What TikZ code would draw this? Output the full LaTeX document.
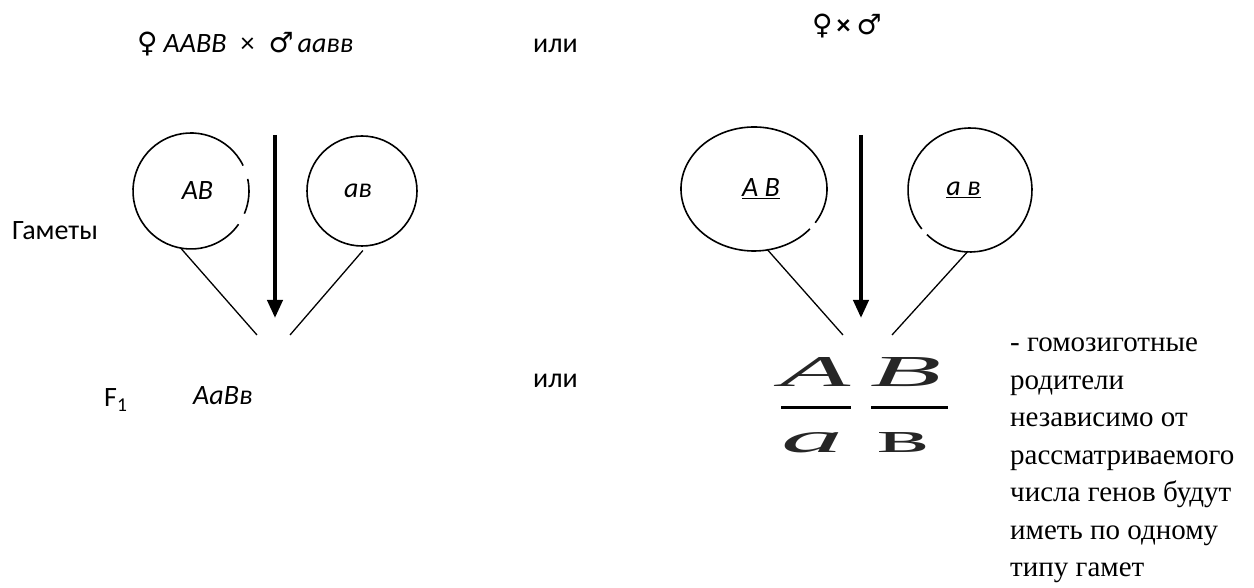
\documentclass[tikz,border=0pt]{standalone}
\usepackage{fontspec}
\setmainfont{Carlito}
\newfontfamily\symfont{DejaVu Sans}
\newfontfamily\romfont{Liberation Serif}
\usetikzlibrary{arrows.meta,shapes.geometric}
\begin{document}
\begin{tikzpicture}[x=1pt,y=1pt]

\tikzstyle{txt}=[inner sep=0pt, anchor=base west, font=\fontsize{28}{34}\selectfont]
\tikzstyle{gamete}=[circle, inner sep=0pt, font=\fontsize{28}{34}\selectfont\itshape]
\tikzstyle{ring}=[line width=1.6pt]
\tikzstyle{tie}=[line width=1.3pt]
\tikzstyle{arrow}=[-{Triangle[width=15pt,length=18pt]}, line width=4pt]
\tikzstyle{note}=[inner sep=0pt, anchor=base west, font=\romfont\fontsize{29}{37}\selectfont]
\tikzstyle{pix}=[inner sep=0pt, text=black!85, font=\romfont]

\fill[white] (0,0) rectangle (1254,588);
\useasboundingbox (0,0) rectangle (1254,588);

% crosses
\node (crossL) [txt] at (137,535) {{\symfont ♀}\hspace{6pt}\textit{AABB}\hspace{14pt}×\hspace{14pt}{\symfont ♂}\hspace{4pt}\textit{aaвв}};
\node (orTop) [txt] at (533,535) {или};
\node (crossR) [txt] at (812,553) {{\symfont ♀}\hspace{4pt}\textbf{×}\hspace{6pt}{\symfont ♂}};

\node (gam) [txt] at (12,348) {Гаметы};
\node (fone) [txt] at (104,181) {F\textsubscript{1}};
\node (hyb) [txt] at (193,183) {\textit{AaBв}};
\node (orBot) [txt] at (533,200) {или};

% left gametes
\node (gAB) [gamete, minimum size=116pt] at (191,397) {\hspace*{13pt}\raisebox{-3pt}{AB}};
\node (gav) [gamete, minimum size=110pt] at (362,397) {\raisebox{-3pt}{aв}\hspace*{8pt}};
\draw [ring] (gAB.center) ++(26:58) arc[start angle=26, end angle=325, radius=58];
\draw [ring] (gAB.center) ++(-23:58) arc[start angle=-23, end angle=12, radius=58];
\draw [ring] (gav) circle[radius=55];

\coordinate (arrTopL) at (275,453);
\coordinate (arrEndL) at (275,270);
\coordinate (footAB) at (257,253);
\coordinate (footav) at (290,253);
\draw [arrow] (arrTopL) -- (arrEndL);
\draw [tie] (gAB.-100) -- (footAB);
\draw [tie, shorten <=6pt] (gav.-85) -- (footav);

% right gametes
\node (eAB) [gamete, ellipse, minimum width=146pt, minimum height=124pt] at (754,399) {\hspace*{14pt}\raisebox{-8pt}{\underline{A B}}};
\node (cav) [gamete, minimum size=124pt] at (970,398) {\raisebox{-7pt}{\underline{a в}}\hspace*{13pt}};
\draw [ring] (eAB.center) ++(-33:73 and 62) arc[start angle=-33, end angle=320, x radius=73, y radius=62];
\draw [ring] (cav.center) ++(-134:62) arc[start angle=-134, end angle=219, radius=62];

\coordinate (arrTopR) at (861,453);
\coordinate (arrEndR) at (861,270);
\coordinate (footeAB) at (843,253);
\coordinate (footcav) at (892,253);
\draw [arrow] (arrTopR) -- (arrEndR);
\draw [tie] (eAB.south) ++(13,2) coordinate (legeAB) -- (footeAB);
\draw [tie] (cav.south) ++(-2,1) coordinate (legcav) -- (footcav);

% chromosome notation
\node (chA) [pix] at (816,215.5) {\resizebox{70pt}{29pt}{\itshape A}};
\node (chB) [pix] at (906.5,215.5) {\resizebox{71pt}{29pt}{\itshape B}};
\node (cha) [pix] at (812,145) {\resizebox{62pt}{20pt}{\itshape a}};
\node (chv) [pix] at (904,145) {\resizebox{52pt}{20pt}{в}};
\draw [line width=3pt] (781,180) coordinate (barAl) -- (851,180) coordinate (barAr);
\draw [line width=3pt] (871,180) coordinate (barBl) -- (948,180) coordinate (barBr);

% note
\foreach \txtline [count=\i] in {- гомозиготные,родители,независимо от,рассматриваемого,числа генов будут,иметь по одному,типу гамет}
  \node[note] (note\i) at (1010,273.5-37.5*\i) {\txtline};

\end{tikzpicture}
\end{document}
